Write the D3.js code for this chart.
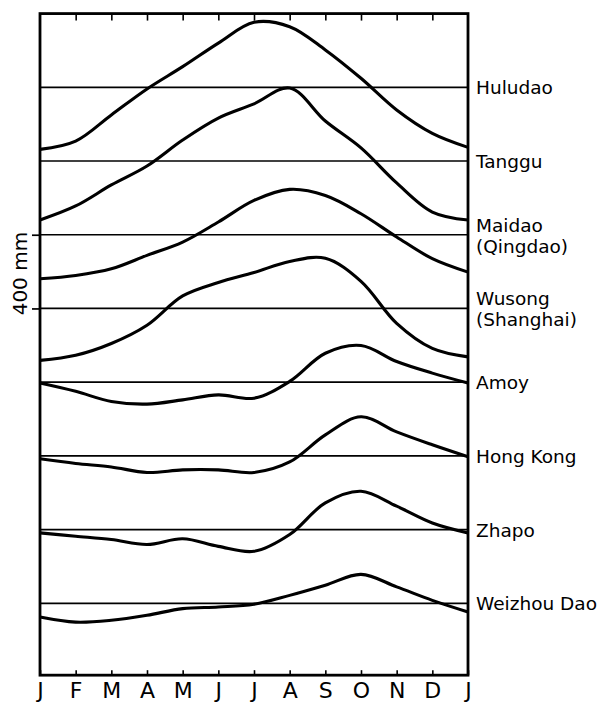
<!DOCTYPE html>
<html>
<head>
<meta charset="utf-8">
<script src="https://cdn.jsdelivr.net/npm/d3@7"></script>
<style>
	body { margin: 0; background: #fff; }
	svg text { font-family: 'DejaVu Sans', sans-serif; fill: #000; }
</style>
</head>
<body>
<div id="canvas"></div>
<script>
// month ticks, Jan .. Jan
const months = ['J', 'F', 'M', 'A', 'M', 'J', 'J', 'A', 'S', 'O', 'N', 'D', 'J'];

// station names (one or two lines)
const stationLabels = [
	['Huludao'],
	['Tanggu'],
	['Maidao', '(Qingdao)'],
	['Wusong', '(Shanghai)'],
	['Amoy'],
	['Hong Kong'],
	['Zhapo'],
	['Weizhou Dao']
];

// monthly deviation from mean sea level, mm
const huludao = [-337, -292, -150, -9, 112, 240, 353, 329, 203, 49, -123, -250, -326];
const tanggu = [-320, -244, -130, -27, 114, 233, 310, 396, 217, 71, -119, -277, -320];
const maidao = [-239, -221, -185, -112, -40, 69, 186, 246, 213, 114, -12, -130, -203];
const wusong = [-282, -254, -190, -91, 68, 141, 195, 255, 272, 147, -81, -217, -263];
const amoy = [-5, -50, -105, -119, -96, -69, -87, 4, 157, 199, 112, 49, -5];
const hongKong = [-16, -41, -60, -90, -76, -76, -90, -33, 114, 212, 130, 60, -5];
const zhapo = [-18, -36, -54, -81, -50, -91, -118, -27, 145, 208, 127, 36, -18];
const weizhou = [-74, -102, -92, -65, -29, -20, -5, 43, 98, 157, 89, 16, -47];

const series = [huludao, tanggu, maidao, wusong, amoy, hongKong, zhapo, weizhou];

// each station is shifted down by this much
const spacing = 400;
const scaleTicks = [-800, -1200];

const w = 604;
const h = 704;

const svg = d3.select('#canvas')
	.append('svg')
	.attr('width', w)
	.attr('height', h);

const x = d3.scaleLinear()
	.domain([0, 12])
	.range([40, 468]);

const y = d3.scaleLinear()
	.domain([0, -2800])
	.range([87.3, 603.3]);

const frameTop = y(400);
const frameBottom = y(-3190);

// station reference lines
svg.append('g')
	.selectAll('line')
	.data(series)
	.enter()
	.append('line')
	.attr('x1', x(0))
	.attr('x2', x(12))
	.attr('y1', (d, i) => y(-i * spacing))
	.attr('y2', (d, i) => y(-i * spacing))
	.attr('stroke', '#000')
	.attr('stroke-width', 1.7);

const line = d3.line()
	.x((d, i) => x(i))
	.curve(d3.curveCatmullRom.alpha(0.5));

svg.append('g')
	.selectAll('path')
	.data(series)
	.enter()
	.append('path')
	.attr('d', (d, k) => line.y(v => y(v - k * spacing))(d))
	.attr('fill', 'none')
	.attr('stroke', '#000')
	.attr('stroke-width', 3.1)
	.attr('stroke-linejoin', 'round');

// frame
svg.append('rect')
	.attr('x', x(0))
	.attr('y', frameTop)
	.attr('width', x(12) - x(0))
	.attr('height', frameBottom - frameTop)
	.attr('fill', 'none')
	.attr('stroke', '#000')
	.attr('stroke-width', 2.8);

// month axis
const xAxis = d3.axisBottom(x)
	.tickValues(d3.range(13))
	.tickFormat(i => months[i])
	.tickSizeInner(-5)
	.tickSizeOuter(0)
	.tickPadding(7.5);

const gx = svg.append('g')
	.attr('transform', 'translate(0,' + frameBottom + ')')
	.call(xAxis);
gx.select('.domain').remove();
gx.selectAll('line').attr('stroke-width', 1.6);
gx.selectAll('text')
	.style('font-family', "'DejaVu Sans', sans-serif")
	.style('font-size', '22px');

const gTop = svg.append('g')
	.attr('transform', 'translate(0,' + frameTop + ')')
	.call(d3.axisTop(x).tickValues(d3.range(1, 12)).tickFormat('').tickSizeInner(-7).tickSizeOuter(0));
gTop.select('.domain').remove();
gTop.selectAll('line').attr('stroke-width', 1.6);

// 400 mm scale on the left
const gy = svg.append('g')
	.attr('transform', 'translate(' + x(0) + ',0)')
	.call(d3.axisLeft(y).tickValues(scaleTicks).tickFormat('').tickSizeInner(8).tickSizeOuter(0));
gy.select('.domain').remove();
gy.selectAll('line').attr('stroke-width', 1.7);

svg.append('text')
	.attr('transform', 'translate(26.5,' + ((y(scaleTicks[0]) + y(scaleTicks[1])) / 2 + 2) + ') rotate(-90)')
	.style('text-anchor', 'middle')
	.style('font-size', '20px')
	.text('400 mm');

// station labels
const labels = svg.append('g')
	.selectAll('text')
	.data(stationLabels)
	.enter()
	.append('text')
	.attr('x', 476)
	.attr('y', (d, i) => y(-i * spacing) + (d.length > 1 ? -3 : 7))
	.style('font-size', '18.5px');

labels.selectAll('tspan')
	.data(d => d)
	.enter()
	.append('tspan')
	.attr('x', 476)
	.attr('dy', (d, i) => i === 0 ? 0 : 21)
	.text(d => d);
</script>
</body>
</html>
